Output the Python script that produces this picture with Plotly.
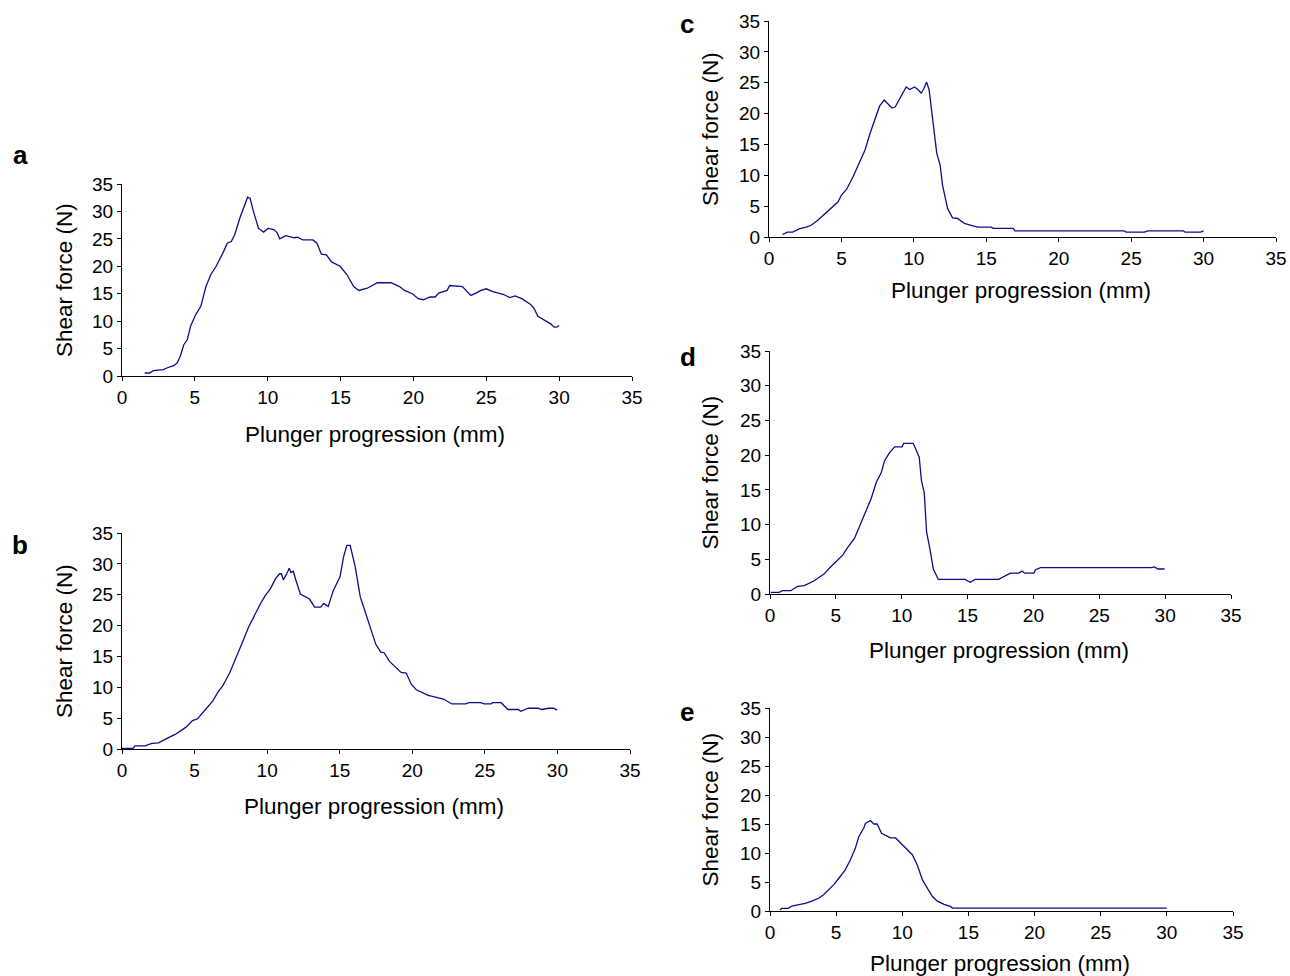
import plotly.graph_objects as go

# ---- data ----
a_x = [1.56, 1.91, 2.14, 2.84, 3.08, 3.54, 3.78, 4.0, 4.24, 4.48, 4.71, 5.06, 5.41, 5.76, 6.1, 6.46, 6.92, 7.23, 7.5, 7.74, 8.09, 8.44, 8.62, 8.79, 9.02, 9.37, 9.72, 10.02, 10.42, 10.65, 10.82, 11.24, 11.82, 12.05, 12.4, 13.1, 13.38, 13.68, 14.03, 14.38, 14.97, 15.43, 15.9, 16.25, 16.83, 17.53, 18.46, 19.05, 19.39, 19.93, 20.33, 20.68, 21.14, 21.49, 21.73, 22.31, 22.49, 23.36, 23.94, 24.29, 24.64, 24.99, 25.45, 26.15, 26.62, 26.97, 27.44, 28.02, 28.26, 28.54, 29.07, 29.42, 29.65, 29.84, 30.0]
a_y = [0.55, 0.55, 0.97, 1.15, 1.46, 1.88, 2.37, 3.6, 5.7, 6.6, 9.1, 11.2, 12.7, 16.3, 18.5, 20.0, 22.4, 24.2, 24.5, 25.8, 28.8, 31.2, 32.6, 32.4, 30.0, 26.9, 26.2, 26.9, 26.7, 26.1, 25.0, 25.6, 25.2, 25.3, 24.8, 24.8, 24.2, 22.2, 22.1, 20.8, 20.0, 18.5, 16.3, 15.6, 16.0, 17.0, 17.0, 16.3, 15.6, 15.0, 14.1, 13.9, 14.4, 14.4, 15.1, 15.6, 16.5, 16.3, 14.7, 15.1, 15.6, 15.9, 15.4, 14.9, 14.3, 14.6, 14.1, 13.1, 12.4, 10.9, 10.1, 9.5, 8.9, 8.9, 9.2]

b_x = [0.0, 0.77, 0.89, 1.59, 2.06, 2.52, 3.0, 3.69, 4.39, 4.86, 5.21, 5.79, 6.26, 6.61, 6.96, 7.43, 7.9, 8.25, 8.71, 9.07, 9.53, 9.88, 10.23, 10.58, 10.86, 10.98, 11.12, 11.35, 11.52, 11.64, 11.8, 11.99, 12.29, 12.92, 13.27, 13.69, 13.9, 14.21, 14.56, 15.02, 15.26, 15.49, 15.72, 16.07, 16.42, 16.65, 17.01, 17.48, 17.83, 18.06, 18.43, 18.76, 19.23, 19.58, 19.93, 20.28, 20.7, 21.1, 21.45, 22.15, 22.73, 23.67, 23.9, 24.72, 24.95, 25.42, 25.54, 26.12, 26.59, 27.29, 27.48, 27.99, 28.69, 28.93, 29.39, 29.74, 29.98]
b_y = [0.1, 0.1, 0.5, 0.5, 0.9, 1.0, 1.6, 2.4, 3.5, 4.6, 4.9, 6.5, 7.8, 9.2, 10.3, 12.4, 14.9, 17.0, 19.7, 21.4, 23.5, 24.9, 26.0, 27.6, 28.4, 28.4, 27.4, 28.4, 29.3, 28.6, 28.8, 27.3, 25.1, 24.3, 23.0, 23.0, 23.6, 23.1, 25.7, 27.9, 31.1, 33.0, 33.0, 29.5, 24.6, 23.0, 20.3, 17.0, 15.7, 15.6, 14.2, 13.4, 12.4, 12.3, 10.5, 9.6, 9.2, 8.7, 8.5, 8.1, 7.3, 7.3, 7.5, 7.5, 7.3, 7.3, 7.5, 7.5, 6.4, 6.4, 6.1, 6.6, 6.6, 6.4, 6.6, 6.6, 6.3]

c_x = [0.93, 1.28, 1.63, 2.09, 2.56, 2.91, 3.37, 3.84, 4.3, 4.77, 5.0, 5.35, 5.81, 6.28, 6.63, 6.98, 7.33, 7.63, 7.95, 8.26, 8.49, 8.72, 9.07, 9.47, 9.72, 10.05, 10.28, 10.51, 10.7, 10.88, 11.05, 11.28, 11.58, 11.81, 11.98, 12.33, 12.67, 13.02, 13.49, 13.95, 14.42, 15.35, 15.47, 16.86, 16.98, 24.53, 24.65, 25.93, 26.16, 28.6, 28.72, 29.8, 30.0]
c_y = [0.4, 0.8, 0.8, 1.3, 1.6, 1.9, 2.7, 3.7, 4.6, 5.7, 6.8, 7.7, 9.8, 12.2, 14.1, 16.8, 19.0, 21.2, 22.2, 21.4, 20.9, 21.1, 22.5, 24.3, 23.9, 24.3, 23.9, 23.3, 24.1, 25.1, 23.9, 19.0, 13.6, 11.7, 8.4, 4.6, 3.1, 3.0, 2.2, 1.9, 1.6, 1.6, 1.4, 1.4, 1.0, 1.0, 0.8, 0.8, 1.0, 1.0, 0.8, 0.8, 1.0]

d_x = [0.05, 0.69, 0.94, 1.58, 1.83, 2.09, 2.6, 2.98, 3.36, 3.74, 4.12, 4.5, 5.01, 5.52, 5.9, 6.41, 6.92, 7.3, 7.69, 8.07, 8.45, 8.7, 9.09, 9.47, 10.03, 10.15, 10.87, 11.33, 11.5, 11.71, 11.89, 12.14, 12.4, 12.78, 14.81, 15.2, 15.58, 17.36, 17.86, 18.25, 18.89, 19.14, 19.32, 20.03, 20.16, 20.54, 28.94, 29.19, 29.45, 29.96]
d_y = [0.24, 0.24, 0.48, 0.48, 0.8, 1.1, 1.2, 1.5, 1.9, 2.4, 2.9, 3.7, 4.6, 5.6, 6.7, 8.0, 10.3, 12.0, 13.8, 16.1, 17.5, 19.2, 20.4, 21.2, 21.2, 21.7, 21.7, 19.7, 16.3, 14.6, 8.9, 6.5, 3.6, 2.1, 2.1, 1.7, 2.1, 2.1, 2.6, 3.0, 3.0, 3.3, 3.0, 3.0, 3.5, 3.8, 3.8, 3.9, 3.6, 3.6]

e_x = [0.76, 0.89, 1.39, 1.65, 2.28, 2.66, 3.16, 3.67, 4.05, 4.43, 4.81, 5.19, 5.69, 6.07, 6.45, 6.71, 7.09, 7.21, 7.47, 7.59, 7.85, 8.1, 8.43, 8.73, 9.11, 9.49, 9.74, 10.25, 10.76, 11.14, 11.52, 11.9, 12.28, 12.65, 13.16, 13.67, 13.79, 29.99]
e_y = [0.17, 0.46, 0.46, 0.86, 1.15, 1.3, 1.7, 2.2, 2.8, 3.6, 4.5, 5.6, 7.1, 8.8, 10.8, 12.8, 14.3, 15.1, 15.4, 15.6, 15.0, 15.0, 13.4, 13.1, 12.6, 12.6, 12.0, 10.8, 9.7, 7.9, 5.4, 3.9, 2.5, 1.7, 1.15, 0.75, 0.5, 0.5]

panel_labels = ["a", "b", "c", "d", "e"]
x_title = "Plunger progression (mm)"
y_title = "Shear force (N)"
tick_vals = [0, 5, 10, 15, 20, 25, 30, 35]

W, H = 1290, 976
OFF = 0  # body margin removed via post_script
# pixel boxes in the screenshot: (x_left, x_right, y_bottom, y_top)
boxes = [
    (122, 632, 376, 184),
    (122, 630, 749, 533),
    (769, 1276, 237, 21),
    (770, 1231, 594, 351),
    (770, 1233, 911, 708),
]
series = [(a_x, a_y), (b_x, b_y), (c_x, c_y), (d_x, d_y), (e_x, e_y)]
label_pos = [(20, 155), (20, 545), (687, 24), (688, 357), (687, 712)]
xtitle_y = [434, 806, 291, 650, 963]


def px(x):
    return (x - OFF) / W


def py(y):
    return 1 - (y - OFF) / H


LINE = "#0c0c8a"
FONT = "Liberation Sans, Arial, sans-serif"

fig = go.Figure()
annotations = []
for i, ((xs, ys), (xl, xr, yb, yt)) in enumerate(zip(series, boxes)):
    n = "" if i == 0 else str(i + 1)
    fig.add_trace(go.Scatter(x=xs, y=ys, mode="lines", xaxis="x" + n, yaxis="y" + n,
                             line=dict(color=LINE, width=1.3), showlegend=False,
                             hoverinfo="skip", cliponaxis=False))
    common = dict(range=[0, 35], tickvals=tick_vals, showline=True, linecolor="black",
                  linewidth=1, ticks="outside", ticklen=4, tickcolor="black", tickwidth=1,
                  showgrid=False, zeroline=False, automargin=False,
                  tickfont=dict(family=FONT, size=19, color="black"))
    fig.layout["xaxis" + n] = dict(domain=[px(xl), px(xr)], anchor="y" + n, **common)
    fig.layout["yaxis" + n] = dict(domain=[py(yb), py(yt)], anchor="x" + n, **common)
    annotations.append(dict(text=x_title, xref="paper", yref="paper",
                            x=px((xl + xr) / 2 - 2), y=py(xtitle_y[i]),
                            showarrow=False, xanchor="center", yanchor="middle",
                            font=dict(family=FONT, size=22.5, color="black")))
    ytx = 64 if xl < 400 else 710
    annotations.append(dict(text=y_title, xref="paper", yref="paper", x=px(ytx),
                            y=py((yb + yt) / 2), showarrow=False, textangle=-90,
                            xanchor="center", yanchor="middle",
                            font=dict(family=FONT, size=22.5, color="black")))
    lx, ly = label_pos[i]
    annotations.append(dict(text="<b>" + panel_labels[i] + "</b>", xref="paper", yref="paper",
                            x=px(lx), y=py(ly), showarrow=False, xanchor="center",
                            yanchor="middle", font=dict(family=FONT, size=26, color="black")))

fig.update_layout(template="none", width=W, height=H, autosize=False,
                  margin=dict(l=0, r=0, t=0, b=0, pad=0, autoexpand=False),
                  paper_bgcolor="white", plot_bgcolor="white", annotations=annotations,
                  font=dict(family=FONT))
fig.write_html("out.html", config={"displayModeBar": False},
               post_script="document.body.style.margin='0';document.body.style.overflow='hidden';")
